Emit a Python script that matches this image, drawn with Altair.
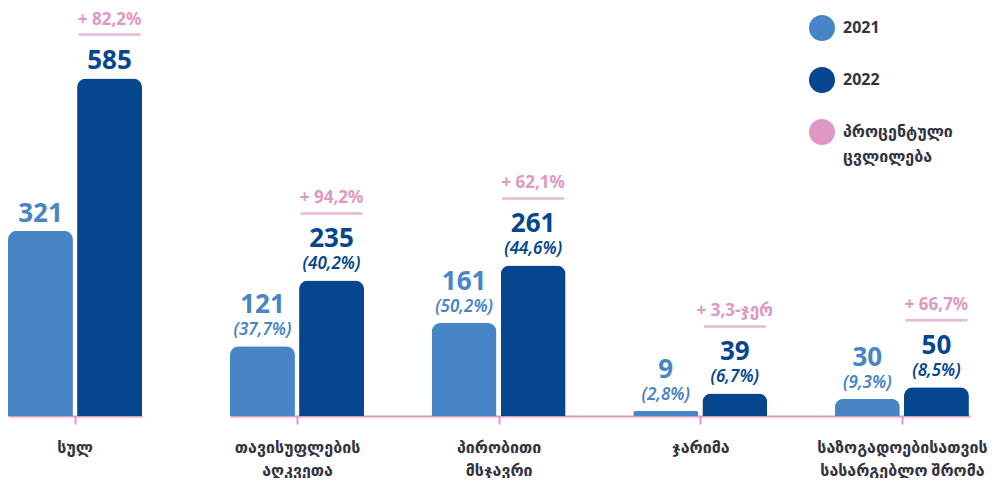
import altair as alt
import pandas as pd

categories = ["სულ", "თავისუფლების\nაღკვეთა", "პირობითი\nმსჯავრი", "ჯარიმა",
              "საზოგადოებისათვის\nსასარგებლო შრომა"]
values_2021 = [321, 121, 161, 9, 30]
values_2022 = [585, 235, 261, 39, 50]
share_2021 = ["", "(37,7%)", "(50,2%)", "(2,8%)", "(9,3%)"]
share_2022 = ["", "(40,2%)", "(44,6%)", "(6,7%)", "(8,5%)"]
change_labels = ["+ 82,2%", "+ 94,2%", "+ 62,1%", "+ 3,3-ჯერ", "+ 66,7%"]
years = ["2021", "2022"]
legend_labels = ["2021", "2022", "პროცენტული ცვლილება"]
colors = ["#4885c6", "#05468f", "#df97c5"]
PINK = "#df97c5"
FONT = "Noto Sans, DejaVu Sans"
TEXT_DARK = "#33333f"

rows = []
for i, c in enumerate(categories):
    rows.append(dict(cat=c, year="2021", value=values_2021[i], share=share_2021[i], change=change_labels[i]))
    rows.append(dict(cat=c, year="2022", value=values_2022[i], share=share_2022[i], change=change_labels[i]))
df = pd.DataFrame(rows)

color_enc = alt.Color(
    "year:N",
    scale=alt.Scale(domain=legend_labels, range=colors),
    legend=alt.Legend(
        title=None, orient="none", legendX=801, legendY=7,
        symbolType="circle", symbolSize=676, symbolStrokeWidth=0, symbolOpacity=1,
        labelFont=FONT, labelFontSize=16, labelFontWeight="bold", labelColor=TEXT_DARK,
        labelOffset=8, rowPadding=26, labelLimit=0, padding=0,
        labelExpr="split(datum.label, ' ')",
    ),
)


def panel(cats, width, has_share):
    data = df[df["cat"].isin(cats)]
    x = alt.X("cat:N", sort=cats,
              scale=alt.Scale(paddingInner=0.33, paddingOuter=0),
              axis=alt.Axis(title=None, labelAngle=0, labelExpr="split(datum.label, '\\n')",
                            domainColor=PINK, domainWidth=2, tickColor=PINK, tickWidth=2,
                            tickSize=8, labelFont=FONT, labelFontSize=16, labelFontWeight="bold",
                            labelColor=TEXT_DARK, labelPadding=15, labelLineHeight=23,
                            labelBaseline="top", labelLimit=0))
    xo = alt.XOffset("year:N", sort=years, scale=alt.Scale(paddingInner=0.06))
    y = alt.Y("value:Q", scale=alt.Scale(domain=[0, 707], nice=False), axis=None)
    base = alt.Chart(data)
    bars = base.mark_bar(cornerRadiusTopLeft=9, cornerRadiusTopRight=9).encode(
        x=x, xOffset=xo, y=y, color=color_enc)
    num_dy = -41 if has_share else -17
    nums = base.mark_text(font="Noto Sans", fontSize=26, fontWeight="bold",
                          baseline="middle", dy=num_dy).encode(
        x=x, xOffset=xo, y=y, text="value:Q", color=color_enc)
    layers = [bars, nums]
    if has_share:
        shares = base.mark_text(font="Noto Sans", fontSize=17, fontWeight=600, fontStyle="italic",
                                baseline="middle", dy=-16).encode(
            x=x, xOffset=xo, y=y, text="share:N", color=color_enc)
        layers.append(shares)
    line_off = -67 if has_share else -44
    txt_off = -82 if has_share else -58
    d22 = base.transform_filter(alt.datum.year == "2022")
    tick = d22.mark_tick(orient="horizontal", size=62, thickness=2.5, color=PINK,
                         yOffset=line_off).encode(x=x, xOffset=xo, y=y)
    chg = d22.mark_text(font=FONT, fontSize=17, fontWeight="bold", color=PINK,
                        baseline="middle", dy=txt_off).encode(
        x=x, xOffset=xo, y=y, text="change:N")
    layers += [tick, chg]
    return alt.layer(*layers).properties(width=width, height=408)


left = panel(categories[:1], 134, False)
right = panel(categories[1:], 740, True)

chart = (
    alt.hconcat(left, right, spacing=88)
    .resolve_scale(color="shared", y="shared")
    .properties(padding=0)
    .configure(style={"guide-label": {"lineHeight": 25}})
    .configure_view(stroke=None)
)

chart.save("out.html", embed_options={"renderer": "svg", "actions": False})
